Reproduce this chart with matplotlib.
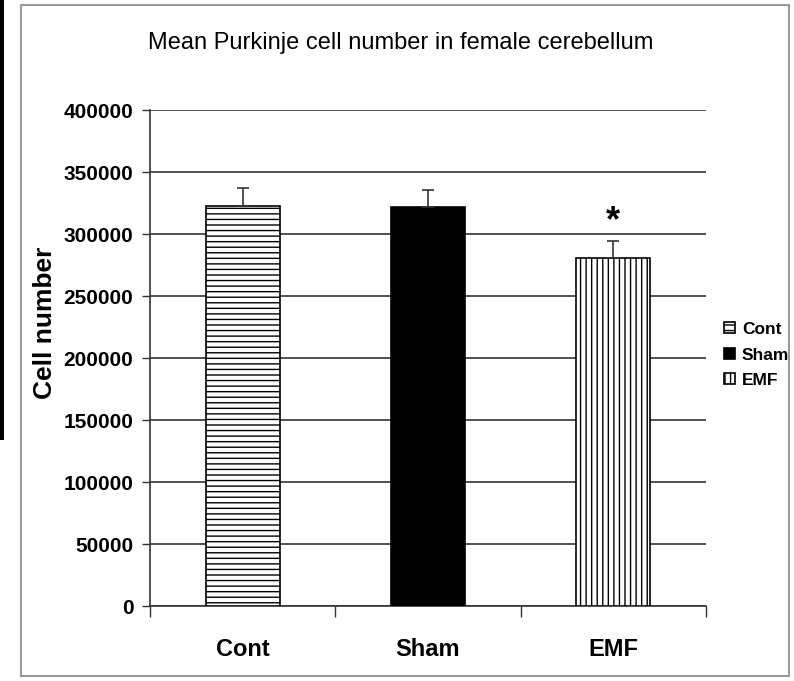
import matplotlib.pyplot as plt
from matplotlib.patches import Rectangle
from matplotlib.ticker import FixedLocator

plt.rcParams['font.family'] = ['Liberation Sans', 'DejaVu Sans']
plt.rcParams['hatch.linewidth'] = 1.0

groups = ['Cont', 'Sham', 'EMF']
means = [322500, 321500, 280500]
errors = [15000, 14000, 14000]
hatches = ['---', '', '|||']
fills = ['white', 'black', 'white']
yticks = [0, 50000, 100000, 150000, 200000, 250000, 300000, 350000, 400000]

fig = plt.figure(figsize=(7.94, 6.81), dpi=100)
# outer chart frame and dark left strip from the screenshot
fig.patches.append(Rectangle((21 / 794, 5 / 681), 768 / 794, 671 / 681, transform=fig.transFigure,
                             fill=False, edgecolor='#9a9a9a', linewidth=1.5))
fig.patches.append(Rectangle((0, 1 - 440 / 681), 4 / 794, 440 / 681, transform=fig.transFigure,
                             facecolor='black', edgecolor='none'))

ax = fig.add_axes([150 / 794, 1 - 606 / 681, 556 / 794, 496 / 681])
x = range(len(groups))
bars = ax.bar(x, means, width=0.4, color=fills, edgecolor='black', linewidth=1.2,
              hatch=hatches, zorder=3, label=groups)
ax.errorbar(x, means, yerr=[[0, 0, 0], errors], fmt='none', ecolor='#333333',
            elinewidth=1.2, capsize=4, capthick=1.2, zorder=4)
ax.text(2, means[2] + errors[2] + 1000, '*', ha='center', va='bottom',
        fontsize=26, fontweight='bold')

ax.set_ylim(0, 400000)
ax.set_xlim(-0.5, 2.5)
ax.set_yticks(yticks)
ax.set_yticklabels([str(v) for v in yticks], fontsize=15, fontweight='bold')
ax.set_xticks(list(x))
ax.set_xticklabels(groups, fontsize=17, fontweight='bold')
ax.tick_params(axis='x', length=0, pad=23)
ax.xaxis.set_minor_locator(FixedLocator([-0.5, 0.5, 1.5, 2.5]))
ax.tick_params(axis='x', which='minor', length=8, width=1, color='#333333')
ax.tick_params(axis='y', length=6, width=1, color='#333333', pad=6)
ax.grid(axis='y', color='#333333', linewidth=1.2, zorder=0)
ax.set_axisbelow(True)
for s in ['top', 'right']:
    ax.spines[s].set_visible(False)
for s in ['left', 'bottom']:
    ax.spines[s].set_color('#333333')
    ax.spines[s].set_linewidth(1.2)

ax.set_ylabel('Cell number', fontsize=19, fontweight='bold')
ax.yaxis.set_label_coords(-0.168, 0.57)
ax.set_title('Mean Purkinje cell number in female cerebellum', fontsize=17, pad=44, x=0.45)

leg = ax.legend(bars, groups, loc='center left', bbox_to_anchor=(1.027, 0.506), frameon=False,
                borderaxespad=0, borderpad=0.2,
                handlelength=0.6, handleheight=0.6, handletextpad=0.4, labelspacing=0.6,
                prop={'size': 12.5, 'weight': 'bold'})

fig.savefig('out.png', dpi=100)
